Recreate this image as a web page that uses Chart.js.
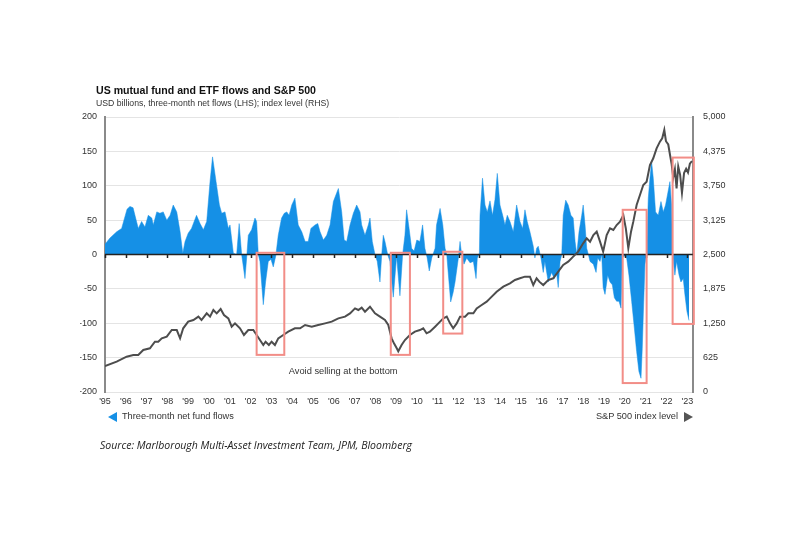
<!DOCTYPE html>
<html>
<head>
<meta charset="utf-8">
<script src="https://cdn.jsdelivr.net/npm/chart.js@4.4.1/dist/chart.umd.min.js"></script>
<style>
  html, body { margin: 0; padding: 0; background: #fff; }
  #wrap { position: relative; width: 800px; height: 533px; overflow: hidden; font-family: "Liberation Sans", Arial, sans-serif; color: #222; }
  #chart { position: absolute; left: 0; top: 0; }
  .txt { position: absolute; white-space: nowrap; line-height: 1; }
  #title { left: 96px; top: 85px; font-size: 10.6px; font-weight: bold; color: #111; }
  #subtitle { left: 96px; top: 99px; font-size: 8.7px; color: #333; }
  #legend-left { left: 122px; top: 412px; font-size: 9.2px; color: #333; }
  #legend-right { right: 122px; top: 412px; font-size: 9.2px; color: #333; }
  .tri-left { position: absolute; left: 108px; top: 412px; width: 0; height: 0;
    border-top: 5px solid transparent; border-bottom: 5px solid transparent; border-right: 9px solid #1590e6; }
  .tri-right { position: absolute; left: 684px; top: 412px; width: 0; height: 0;
    border-top: 5px solid transparent; border-bottom: 5px solid transparent; border-left: 9px solid #555; }
  #source { left: 100px; top: 440px; font-family: "Open Sans", sans-serif; font-style: italic; font-size: 10.5px; color: #222; }
</style>
</head>
<body>
<div id="wrap">
  <canvas id="chart" width="800" height="533"></canvas>
  <div class="txt" id="title">US mutual fund and ETF flows and S&amp;P 500</div>
  <div class="txt" id="subtitle">USD billions, three-month net flows (LHS); index level (RHS)</div>
  <div class="tri-left"></div>
  <div class="txt" id="legend-left">Three-month net fund flows</div>
  <div class="txt" id="legend-right">S&amp;P 500 index level</div>
  <div class="tri-right"></div>
  <div class="txt" id="source">Source: Marlborough Multi-Asset Investment Team, JPM, Bloomberg</div>
</div>
<script>
/* Three-month net fund flows, USD bn (LHS) */
const flowYears = [
  1995.00, 1995.24, 1995.56, 1995.80, 1996.06, 1996.20, 1996.35, 1996.44, 1996.60, 1996.76,
  1996.92, 1997.08, 1997.25, 1997.32, 1997.49, 1997.64, 1997.80, 1997.97, 1998.13, 1998.28,
  1998.45, 1998.61, 1998.74, 1998.85, 1999.00, 1999.16, 1999.40, 1999.57, 1999.73, 1999.89,
  2000.05, 2000.17, 2000.34, 2000.50, 2000.61, 2000.77, 2000.93, 2001.01, 2001.17, 2001.33,
  2001.45, 2001.57, 2001.73, 2001.81, 2001.89, 2002.05, 2002.21, 2002.29, 2002.37, 2002.45,
  2002.61, 2002.72, 2002.85, 2002.98, 2003.09, 2003.21, 2003.33, 2003.49, 2003.62, 2003.74,
  2003.85, 2003.98, 2004.13, 2004.29, 2004.46, 2004.62, 2004.77, 2004.90, 2005.10, 2005.23,
  2005.34, 2005.50, 2005.66, 2005.82, 2005.98, 2006.22, 2006.38, 2006.50, 2006.62, 2006.78,
  2006.94, 2007.10, 2007.26, 2007.34, 2007.50, 2007.66, 2007.74, 2007.85, 2007.98, 2008.09,
  2008.22, 2008.30, 2008.38, 2008.46, 2008.59, 2008.70, 2008.86, 2009.02, 2009.18, 2009.31,
  2009.42, 2009.50, 2009.62, 2009.74, 2009.86, 2009.99, 2010.14, 2010.27, 2010.38, 2010.49,
  2010.59, 2010.71, 2010.87, 2010.94, 2011.11, 2011.24, 2011.35, 2011.43, 2011.50, 2011.62,
  2011.74, 2011.83, 2011.99, 2012.07, 2012.15, 2012.26, 2012.39, 2012.55, 2012.71, 2012.84,
  2012.90, 2013.00, 2013.03, 2013.15, 2013.27, 2013.38, 2013.51, 2013.63, 2013.75, 2013.86,
  2013.99, 2014.12, 2014.23, 2014.34, 2014.47, 2014.63, 2014.79, 2014.95, 2015.08, 2015.19,
  2015.30, 2015.43, 2015.59, 2015.67, 2015.75, 2015.83, 2015.96, 2016.07, 2016.15, 2016.31,
  2016.47, 2016.60, 2016.71, 2016.79, 2016.88, 2016.96, 2017.03, 2017.15, 2017.27, 2017.40,
  2017.51, 2017.60, 2017.68, 2017.79, 2017.92, 2017.99, 2018.08, 2018.16, 2018.24, 2018.32,
  2018.48, 2018.61, 2018.69, 2018.80, 2018.88, 2018.95, 2019.04, 2019.17, 2019.28, 2019.39,
  2019.49, 2019.60, 2019.71, 2019.81, 2019.87, 2019.97, 2020.08, 2020.19, 2020.32, 2020.45,
  2020.56, 2020.67, 2020.77, 2020.83, 2020.88, 2020.96, 2021.04, 2021.12, 2021.20, 2021.28,
  2021.36, 2021.47, 2021.60, 2021.73, 2021.84, 2021.95, 2022.05, 2022.16, 2022.24, 2022.29,
  2022.40, 2022.48, 2022.60, 2022.69, 2022.80, 2022.88, 2022.98, 2023.08
];
const flowValues = [
  15, 24, 33, 38, 66, 70, 68, 57, 38, 48,
  40, 57, 53, 43, 62, 60, 62, 50, 57, 72,
  62, 33, 2, 19, 31, 38, 57, 45, 36, 48,
  106, 142, 106, 72, 60, 62, 38, 43, 2, 0,
  45, 0, -35, -5, 28, 36, 53, 48, 0, -10,
  -73, -40, -10, -7, -18, -2, 28, 53, 60, 62,
  57, 72, 82, 43, 33, 19, 19, 38, 43, 45,
  33, 21, 28, 43, 77, 96, 62, 21, 19, 43,
  60, 72, 62, 43, 28, 43, 53, 19, 0, -10,
  -40, -2, 28, 19, 0, -10, -62, -3, -60, 0,
  28, 65, 38, 9, 5, 21, 19, 43, 9, -5,
  -24, -5, 9, 43, 67, 43, 9, 0, -26, -69,
  -55, -40, -5, 19, 0, -14, -5, -12, -10, -35,
  -5, 2, 57, 111, 72, 62, 78, 57, 80, 118,
  72, 57, 43, 57, 48, 33, 72, 48, 38, 65,
  48, 33, 12, -5, 9, 12, -5, -26, -10, -40,
  -26, -35, -26, -48, -10, 0, 57, 79, 72, 57,
  53, 19, 0, 33, 57, 72, 43, 9, 0, -10,
  -14, -26, -5, -10, 0, -48, -58, -30, -40, -44,
  -63, -68, -68, -78, -5, -2, -5, -30, -68, -107,
  -141, -170, -180, -137, -88, -14, 0, 82, 111, 135,
  111, 62, 57, 77, 62, 72, 88, 106, 72, 0,
  -30, -10, -30, -40, -35, -58, -83, -96
];

/* S&P 500 index level (RHS) */
const spxYears = [
  1995.00, 1995.56, 1996.04, 1996.36, 1996.60, 1996.84, 1997.16, 1997.40, 1997.56, 1997.73,
  1997.97, 1998.21, 1998.45, 1998.61, 1998.76, 1999.00, 1999.25, 1999.49, 1999.64, 1999.89,
  2000.05, 2000.21, 2000.37, 2000.56, 2000.72, 2000.93, 2001.09, 2001.25, 2001.49, 2001.68,
  2001.89, 2002.13, 2002.29, 2002.45, 2002.61, 2002.72, 2002.88, 2003.01, 2003.17, 2003.33,
  2003.57, 2003.81, 2004.13, 2004.38, 2004.62, 2004.94, 2005.25, 2005.58, 2005.90, 2006.22,
  2006.54, 2006.78, 2007.02, 2007.18, 2007.34, 2007.50, 2007.74, 2007.98, 2008.22, 2008.46,
  2008.62, 2008.78, 2008.90, 2009.02, 2009.10, 2009.26, 2009.42, 2009.66, 2009.90, 2010.14,
  2010.30, 2010.46, 2010.62, 2010.87, 2011.11, 2011.27, 2011.43, 2011.59, 2011.74, 2011.91,
  2012.07, 2012.31, 2012.47, 2012.71, 2012.87, 2013.11, 2013.35, 2013.51, 2013.83, 2014.15,
  2014.47, 2014.71, 2014.95, 2015.19, 2015.43, 2015.59, 2015.75, 2015.88, 2016.07, 2016.31,
  2016.55, 2016.79, 2017.03, 2017.27, 2017.51, 2017.75, 2017.99, 2018.16, 2018.32, 2018.48,
  2018.64, 2018.80, 2018.95, 2019.12, 2019.28, 2019.44, 2019.60, 2019.76, 2019.92, 2020.04,
  2020.16, 2020.29, 2020.40, 2020.56, 2020.72, 2020.88, 2021.04, 2021.20, 2021.36, 2021.52,
  2021.68, 2021.79, 2021.89, 2021.97, 2022.08, 2022.17, 2022.24, 2022.32, 2022.40, 2022.48,
  2022.56, 2022.65, 2022.74, 2022.84, 2022.94, 2023.03, 2023.12, 2023.22
];
const spxValues = [
  470, 551, 642, 673, 673, 764, 794, 915, 915, 976,
  1006, 1127, 1127, 976, 1158, 1279, 1309, 1370, 1309, 1430,
  1370, 1491, 1430, 1509, 1400, 1339, 1188, 1248, 1158, 1036,
  1127, 1127, 1036, 945, 855, 915, 855, 915, 855, 976,
  1036, 1097, 1158, 1158, 1218, 1188, 1218, 1248, 1279, 1339,
  1370, 1430, 1521, 1491, 1533, 1460, 1551, 1430, 1370, 1309,
  1218, 976, 880, 800, 740, 855, 945, 1036, 1097, 1127,
  1158, 1067, 1097, 1188, 1279, 1339, 1370, 1248, 1158, 1248,
  1370, 1370, 1430, 1430, 1521, 1582, 1642, 1703, 1824, 1915,
  1976, 2036, 2067, 2097, 2097, 1945, 2067, 2006, 1945, 2036,
  2067, 2188, 2309, 2370, 2461, 2552, 2703, 2794, 2733, 2855,
  2915, 2733, 2552, 2855, 2976, 2946, 3036, 3097, 3218, 2976,
  2613, 2915, 3097, 3400, 3582, 3764, 3824, 4127, 4249, 4430,
  4552, 4612, 4764, 4560, 4500, 4300, 4150, 3900, 4050, 3700,
  4100, 3950, 3620, 3980, 4060, 3990, 4150, 4200
];

/* Highlighted sell-offs: [start year, end year, top flow, bottom flow] */
const highlightPeriods = [
  [2002.29, 2003.62, 2.5, -146],
  [2008.74, 2009.66, 2.5, -146],
  [2011.26, 2012.18, 4, -115],
  [2019.89, 2021.04, 65, -187],
  [2022.29, 2023.31, 141, -101]
];
const annotationText = 'Avoid selling at the bottom';
const annotationPos = [2006.45, -170];

const flowTicks = { min: -200, max: 200, step: 50 };
const spxTicks = { min: 0, max: 5000, step: 625 };
const yearRange = [1995, 2023.27];

const colors = {
  flows: '#1590e6',
  spx: '#4d4d4d',
  grid: '#e4e4e4',
  axis: '#8a8a8a',
  zero: '#222222',
  box: '#f28d87',
  tick: '#333333',
};

Chart.defaults.font.family = "'Liberation Sans', Arial, sans-serif";
Chart.defaults.color = colors.tick;

const overlayPlugin = {
  id: 'overlay',
  afterDatasetDraw(chart, args) {
    if (args.index !== 1) return;
    const { ctx, chartArea, scales: { x, y } } = chart;
    const y0 = y.getPixelForValue(0);
    ctx.save();
    ctx.strokeStyle = colors.zero;
    ctx.lineWidth = 1.5;
    ctx.beginPath();
    ctx.moveTo(chartArea.left, y0);
    ctx.lineTo(chartArea.right, y0);
    x.ticks.forEach((t) => {
      const px = Math.round(x.getPixelForValue(t.value)) + 0.5;
      ctx.moveTo(px, y0);
      ctx.lineTo(px, y0 + 3.5);
    });
    ctx.stroke();
    ctx.restore();
  },
  afterDatasetsDraw(chart) {
    const { ctx, scales: { x, y } } = chart;
    ctx.save();
    ctx.strokeStyle = colors.box;
    ctx.lineWidth = 2;
    highlightPeriods.forEach(([x0, x1, top, bottom]) => {
      const left = x.getPixelForValue(x0);
      const right = x.getPixelForValue(x1);
      const t = y.getPixelForValue(top);
      const b = y.getPixelForValue(bottom);
      ctx.strokeRect(left, t, right - left, b - t);
    });
    ctx.fillStyle = '#333';
    ctx.font = "9.3px 'Liberation Sans', Arial, sans-serif";
    ctx.textAlign = 'center';
    ctx.textBaseline = 'middle';
    ctx.fillText(annotationText, x.getPixelForValue(annotationPos[0]), y.getPixelForValue(annotationPos[1]));
    ctx.restore();
  },
};

const tickFont = { size: 9, family: "'Liberation Sans', Arial, sans-serif" };

new Chart(document.getElementById('chart'), {
  type: 'line',
  data: {
    datasets: [
      {
        label: 'S&P 500 index level',
        data: spxYears.map((yr, i) => ({ x: yr, y: spxValues[i] })),
        yAxisID: 'yR',
        borderColor: colors.spx,
        borderWidth: 2,
        pointRadius: 0,
        fill: false,
        tension: 0,
      },
      {
        label: 'Three-month net fund flows',
        data: flowYears.map((yr, i) => ({ x: yr, y: flowValues[i] })),
        yAxisID: 'y',
        borderColor: colors.flows,
        borderWidth: 0.5,
        backgroundColor: colors.flows,
        pointRadius: 0,
        fill: 'origin',
        tension: 0,
      },
    ],
  },
  options: {
    responsive: false,
    animation: false,
    devicePixelRatio: 1,
    layout: { padding: { left: 80, right: 62, top: 117, bottom: 121 } },
    plugins: { legend: { display: false }, tooltip: { enabled: false } },
    scales: {
      x: {
        type: 'linear',
        min: yearRange[0],
        max: yearRange[1],
        grid: { display: false, drawTicks: false },
        border: { display: false },
        ticks: {
          stepSize: 1,
          autoSkip: false,
          maxRotation: 0,
          includeBounds: false,
          padding: 4,
          font: tickFont,
          color: colors.tick,
          callback: (v) => "'" + String(Math.round(v)).slice(2),
        },
        afterFit: (s) => { s.height = 20; },
      },
      y: {
        position: 'left',
        min: flowTicks.min,
        max: flowTicks.max,
        grid: { color: colors.grid, drawTicks: false },
        border: { display: true, color: colors.axis, width: 2 },
        ticks: { stepSize: flowTicks.step, padding: 8, font: tickFont, color: colors.tick },
        afterFit: (s) => { s.width = 25; },
      },
      yR: {
        position: 'right',
        min: spxTicks.min,
        max: spxTicks.max,
        grid: { display: false, drawTicks: false },
        border: { display: true, color: colors.axis, width: 2 },
        ticks: {
          stepSize: spxTicks.step,
          padding: 10,
          font: tickFont,
          color: colors.tick,
          callback: (v) => v.toLocaleString('en-US'),
        },
        afterFit: (s) => { s.width = 45; },
      },
    },
  },
  plugins: [overlayPlugin],
});
</script>
</body>
</html>
